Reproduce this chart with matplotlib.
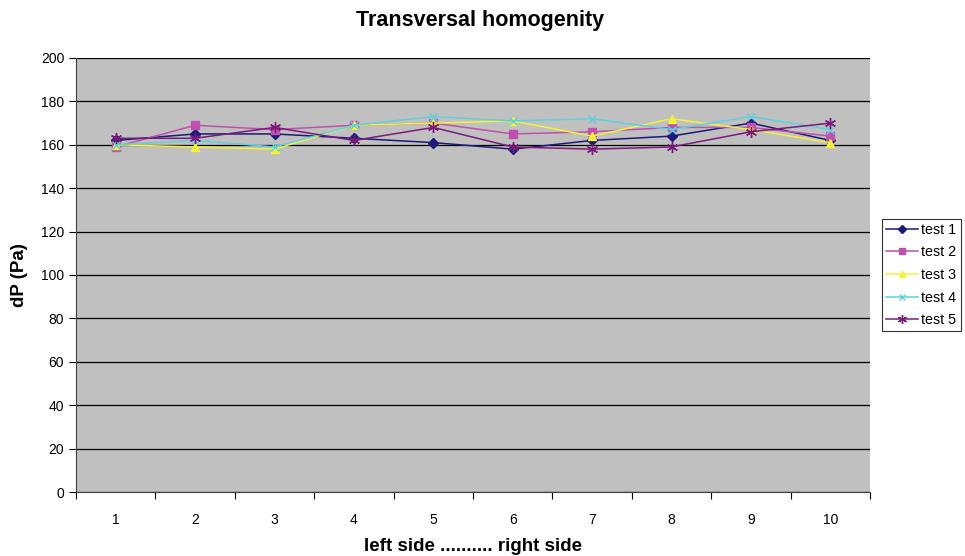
import matplotlib
matplotlib.use("Agg")
import matplotlib.pyplot as plt
import numpy as np

plt.rcParams['font.family'] = ['Liberation Sans', 'DejaVu Sans']

positions = [1, 2, 3, 4, 5, 6, 7, 8, 9, 10]
test1 = [162, 165, 165, 163, 161, 158, 162, 164, 170, 162]
test2 = [159, 169, 167, 169, 170, 165, 166, 168, 168, 164]
test3 = [160, 159, 158, 169, 170, 171, 164, 172, 167, 161]
test4 = [160, 162, 159, 169, 173, 171, 172, 167, 173, 167]
test5 = [163, 163, 168, 162, 168, 159, 158, 159, 166, 170]

series = [
    ("test 1", test1, "#1a1a78", "D", 5),
    ("test 2", test2, "#c050b0", "s", 6),
    ("test 3", test3, "#f2f23a", "^", 6),
    ("test 4", test4, "#5fd0e0", "x", 6),
    ("test 5", test5, "#7a1a7a", (6, 2, 0), 8),
]

fig = plt.figure(figsize=(9.65, 5.56), dpi=100)
ax = fig.add_axes([0.0788, 0.1151, 0.8228, 0.7806])
ax.set_facecolor("#c0c0c0")

for label, vals, color, marker, ms in series:
    ax.plot(positions, vals, color=color, marker=marker, markersize=ms,
            linewidth=1.1, label=label, markeredgewidth=1.0)

ax.set_xlim(0.5, 10.5)
ax.set_ylim(0, 200)
ax.set_yticks(np.arange(0, 201, 20))
ax.yaxis.grid(True, color="black", linewidth=0.9)
ax.set_axisbelow(True)

ax.set_xticks(np.arange(0.5, 10.6, 1), minor=False)
ax.set_xticklabels([])
ax.set_xticks(positions, minor=True)
ax.set_xticklabels([str(p) for p in positions], minor=True)
ax.tick_params(axis="x", which="minor", length=0, pad=15, labelsize=10)
ax.tick_params(axis="x", which="major", length=5, direction="out")
ax.tick_params(axis="y", length=5, direction="out", labelsize=10)

for s in ["top", "right"]:
    ax.spines[s].set_visible(False)
ax.spines["left"].set_color("#404040")
ax.spines["bottom"].set_color("#404040")

ax.set_xlabel("left side .......... right side", fontsize=13.5, fontweight="bold", labelpad=8)
ax.set_ylabel("dP (Pa)", fontsize=13.5, fontweight="bold", labelpad=9)
fig.text(0.497, 0.963, "Transversal homogenity", ha="center", va="center",
         fontsize=15.5, fontweight="bold")

leg = ax.legend(loc="center left", bbox_to_anchor=(0.914, 0.5054),
                bbox_transform=fig.transFigure, frameon=True, fancybox=False,
                edgecolor="black", fontsize=10.3, handlelength=2.2,
                borderpad=0.3, borderaxespad=0, labelspacing=0.6,
                handletextpad=0.25, markerscale=0.8)
leg.get_frame().set_linewidth(0.8)

fig.savefig("out.png", dpi=100, facecolor="white")
